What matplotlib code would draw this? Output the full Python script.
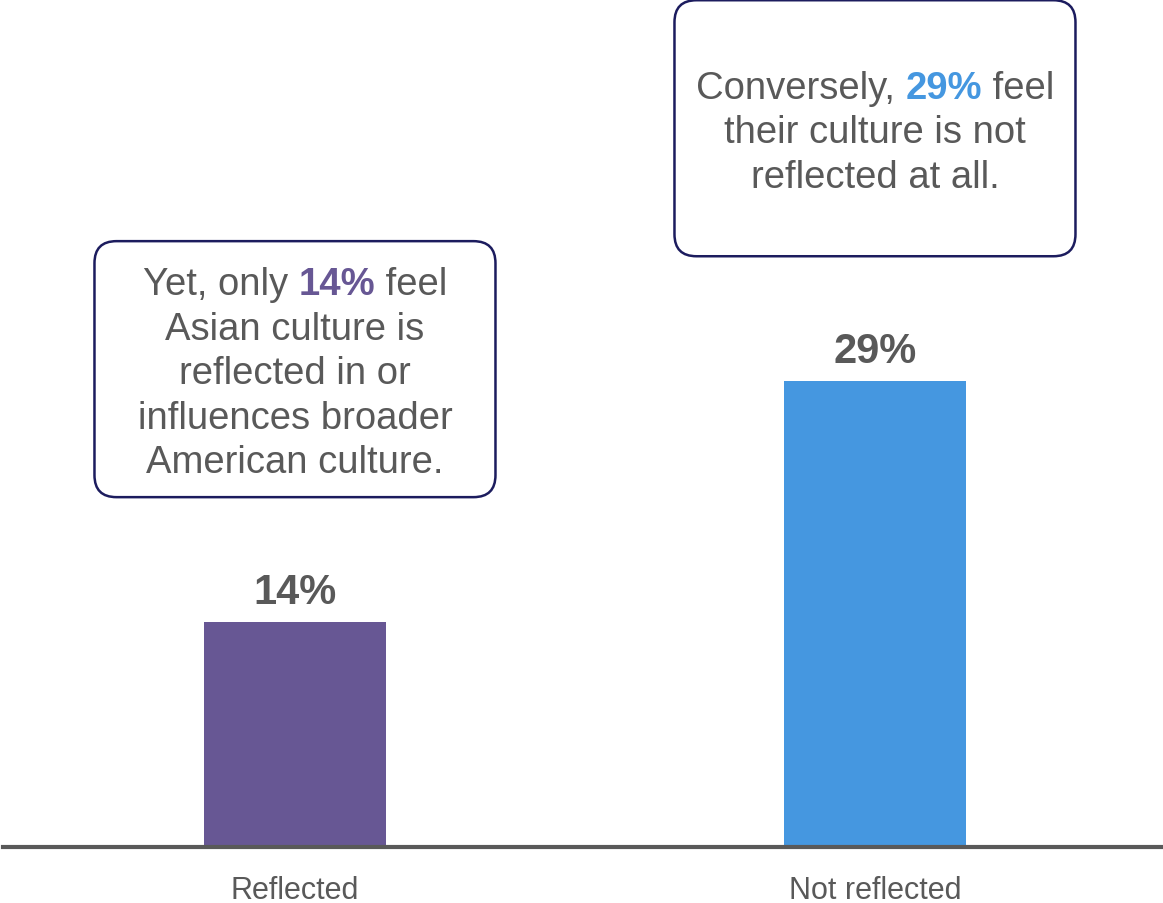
import matplotlib.pyplot as plt
from matplotlib.patches import FancyBboxPatch
from matplotlib.transforms import IdentityTransform

plt.rcParams['font.family'] = ['Liberation Sans', 'DejaVu Sans']

categories = ['Reflected', 'Not reflected']
values = [14, 29]
colors = ['#675794', '#4597e0']

# callout text per bar; the first line carries the highlighted value
note_lead = ['Yet, only ', 'Conversely, ']
note_tail = [' feel', ' feel']
note_rest = [['Asian culture is', 'reflected in or', 'influences broader', 'American culture.'],
             ['their culture is not', 'reflected at all.']]

gray = '#595959'
navy = '#1c1c5e'

W, H = 1163, 904
fig = plt.figure(figsize=(W / 100, H / 100), dpi=100)
ax = fig.add_axes([3 / W, 56 / H, 1 - 3 / W, 1 - 56 / H])

x = [0, 1]
ax.bar(x, values, width=0.314, color=colors)
ax.set_xlim(-0.5034, 1.4966)
ax.set_ylim(0, 52.8)
for s in ['top', 'left', 'right']:
    ax.spines[s].set_visible(False)
ax.spines['bottom'].set_linewidth(3)
ax.spines['bottom'].set_color(gray)
ax.set_yticks([])
ax.set_xticks(x, categories, fontsize=22, color=gray)
ax.tick_params(axis='x', length=0, pad=20)

for i, v in zip(x, values):
    ax.annotate(f'{v}%', (i, v), xytext=(0, 14), textcoords='offset points',
                ha='center', va='baseline', fontsize=30, fontweight='bold', color=gray)

renderer = fig.canvas.get_renderer()
pix = IdentityTransform()
fs = 27.5


def rich_line(pieces, cx, y):
    texts = [fig.text(0, 0, s, transform=pix, fontsize=fs, color=c, fontweight=w,
                      ha='left', va='baseline') for s, c, w in pieces]
    widths = [t.get_window_extent(renderer).width for t in texts]
    x0 = cx - sum(widths) / 2
    for t, w in zip(texts, widths):
        t.set_position((x0, y))
        x0 += w


box_w, box_h, gap = 401, 256, 125
step, cap = 44.5, 28
for i, v in enumerate(values):
    cx, top = ax.transData.transform((x[i], v))
    y0 = top + gap
    ax.add_artist(FancyBboxPatch((cx - box_w / 2, y0), box_w, box_h,
                                 boxstyle='round,pad=0,rounding_size=22',
                                 transform=pix, facecolor='white', edgecolor=navy,
                                 linewidth=1.8, zorder=3))
    n = 1 + len(note_rest[i])
    cy = y0 + box_h / 2
    base = cy + ((n - 1) * step + cap) / 2 - cap
    rich_line([(note_lead[i], gray, 'normal'), (f'{v}%', colors[i], 'bold'),
               (note_tail[i], gray, 'normal')], cx, base)
    for k, line in enumerate(note_rest[i]):
        fig.text(cx, base - (k + 1) * step, line, transform=pix, fontsize=fs,
                 color=gray, ha='center', va='baseline')

fig.savefig('out.png', dpi=100)
